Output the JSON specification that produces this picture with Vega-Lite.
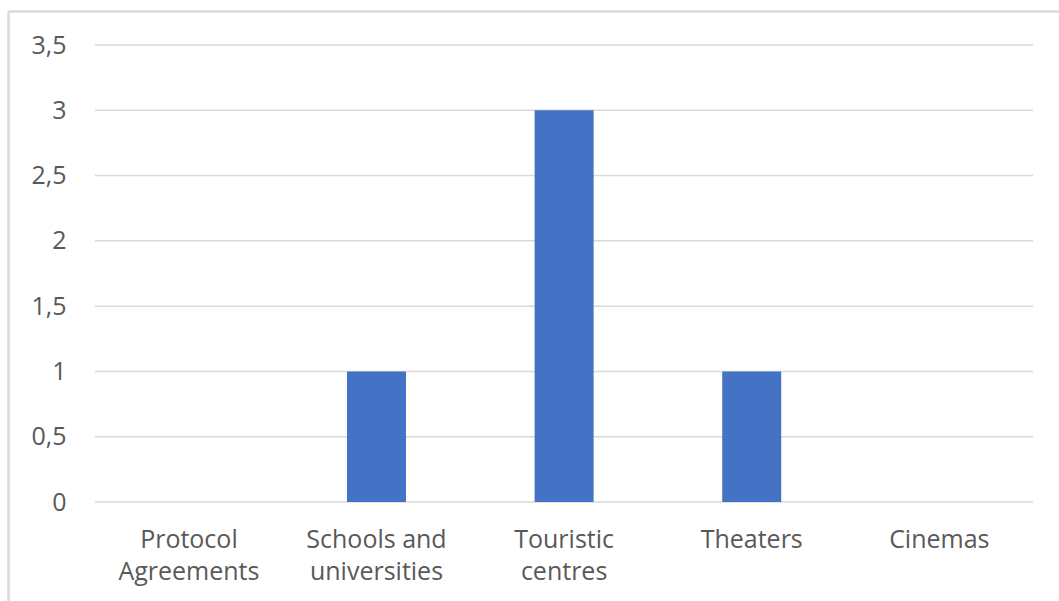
{
  "$schema": "https://vega.github.io/schema/vega-lite/v6.json",
  "width": 1051,
  "height": 590,
  "autosize": {"type": "none"},
  "padding": {"left": 8, "top": 11, "right": 0, "bottom": 0},
  "background": "white",
  "config": {
    "view": {"stroke": null},
    "axis": {
      "labelFont": "Open Sans",
      "labelFontSize": 25,
      "labelColor": "#595959",
      "grid": false,
      "ticks": false,
      "title": null,
      "labelOverlap": false
    }
  },
  "layer": [
    {
      "data": {"values": [{"v": 0}, {"v": 0.5}, {"v": 1}, {"v": 1.5}, {"v": 2}, {"v": 2.5}, {"v": 3}, {"v": 3.5}]},
      "mark": {"type": "rule", "color": "#d9d9d9", "strokeWidth": 1.5},
      "encoding": {
        "y": {
          "field": "v",
          "type": "quantitative",
          "scale": {"domain": [-0.7582, 3.7604], "nice": false, "zero": false},
          "axis": {"orient": "left", "labels": false, "domain": true, "domainColor": "#dadada", "domainWidth": 2.5, "offset": 0}
        },
        "x": {
          "datum": "Protocol Agreements",
          "type": "nominal",
          "bandPosition": -1.0915,
          "axis": {"orient": "top", "labels": false, "domain": true, "domainColor": "#dadada", "domainWidth": 2.5}
        },
        "x2": {"datum": "Cinemas", "bandPosition": 2.088}
      }
    },
    {
      "data": {
        "values": [
          {"category": "Protocol Agreements", "value": 0},
          {"category": "Schools and universities", "value": 1},
          {"category": "Touristic centres", "value": 3},
          {"category": "Theaters", "value": 1},
          {"category": "Cinemas", "value": 0}
        ]
      },
      "mark": {"type": "bar", "color": "#4472C4"},
      "encoding": {
        "x": {
          "field": "category",
          "type": "nominal",
          "sort": null,
          "scale": {
            "type": "band",
            "domain": ["Protocol Agreements", "Schools and universities", "Touristic centres", "Theaters", "Cinemas"],
            "paddingInner": 0.6855,
            "paddingOuter": 0.6439,
            "align": 0.6267
          },
          "axis": {
            "orient": "bottom",
            "labelAngle": 0,
            "domain": false,
            "offset": -74,
            "labelPadding": 0,
            "labelLineHeight": 32,
            "labelExpr": "lastindexof(datum.label, ' ') > 0 ? [substring(datum.label, 0, lastindexof(datum.label, ' ')), substring(datum.label, lastindexof(datum.label, ' ') + 1)] : datum.label"
          }
        },
        "y": {
          "field": "value",
          "type": "quantitative",
          "axis": {
            "orient": "left",
            "domain": false,
            "offset": -66,
            "labelPadding": 8,
            "values": [0, 0.5, 1, 1.5, 2, 2.5, 3, 3.5],
            "labelExpr": "replace(toString(datum.value), '.', ',')"
          }
        }
      }
    }
  ],
  "resolve": {"axis": {"x": "independent", "y": "independent"}}
}
